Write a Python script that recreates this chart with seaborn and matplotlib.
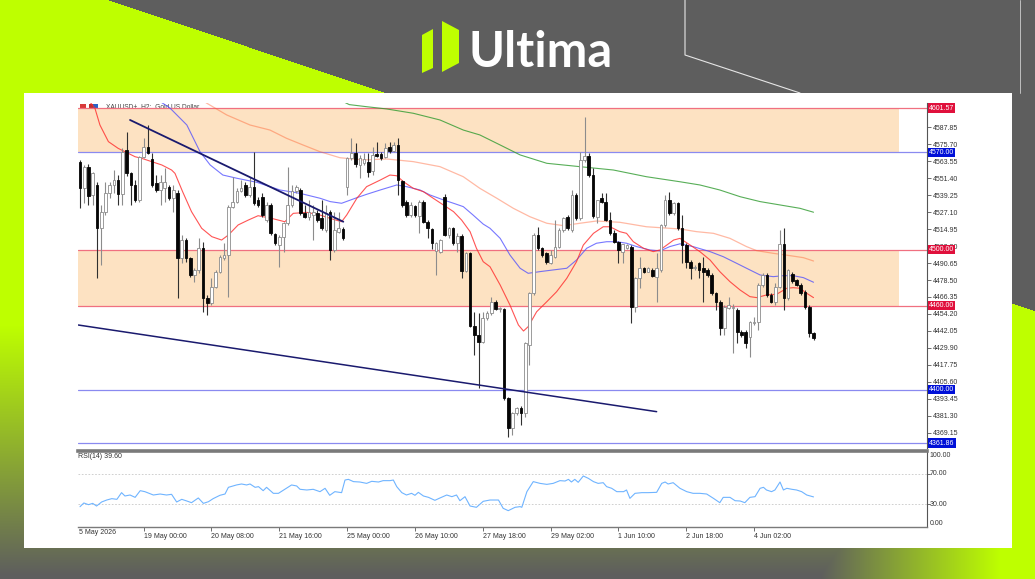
import numpy as np
import pandas as pd
import matplotlib
matplotlib.use("Agg")
import matplotlib.pyplot as plt
import matplotlib.transforms as mtransforms
from matplotlib.patches import Polygon, Rectangle
import seaborn as sns

sns.set_theme(style="white")
plt.rcParams['font.family'] = ['Liberation Sans', 'DejaVu Sans']

# ---------------- data ----------------
OPEN = [4562.7, 4544.1, 4559.6, 4539.3, 4546.5, 4515.5, 4527.4, 4540.5, 4546.5, 4550.1,
        4539.8, 4571.5, 4554.8, 4546.5, 4535.7, 4566.7, 4573.9, 4565.0, 4547.7, 4542.9,
        4544.1, 4545.3, 4536.9, 4540.5, 4494.0, 4507.1, 4494.0, 4482.1, 4485.7, 4501.2,
        4465.4, 4461.8, 4473.7, 4484.5, 4494.0, 4496.4, 4531.0, 4534.5, 4542.2, 4546.5,
        4539.3, 4545.3, 4535.7, 4538.1, 4521.4, 4532.2, 4511.2, 4503.5, 4509.5, 4519.1,
        4532.2, 4542.2, 4542.9, 4526.2, 4523.8, 4525.0, 4526.2, 4522.6, 4514.3, 4527.4,
        4500.0, 4513.1, 4515.0, 4545.3, 4565.6, 4569.6, 4560.8, 4562.0, 4563.2, 4556.5,
        4568.4, 4568.4, 4566.7, 4573.9, 4570.8, 4575.1, 4549.3, 4534.5, 4525.0, 4531.5,
        4524.3, 4534.5, 4520.2, 4515.0, 4499.3, 4498.8, 4538.1, 4510.7, 4515.5, 4504.7,
        4510.0, 4485.2, 4497.6, 4445.8, 4439.2, 4434.4, 4451.1, 4454.7, 4463.0, 4457.7,
        4457.7, 4394.3, 4372.4, 4383.1, 4386.7, 4383.1, 4432.0, 4469.0, 4510.7, 4501.2,
        4497.6, 4490.4, 4495.2, 4502.4, 4514.3, 4523.8, 4514.3, 4539.3, 4522.6, 4564.4,
        4567.4, 4553.6, 4523.8, 4536.9, 4534.5, 4521.4, 4511.9, 4505.9, 4498.8, 4501.6,
        4502.4, 4459.4, 4479.7, 4486.9, 4484.5, 4485.7, 4480.9, 4485.7, 4517.9, 4535.7,
        4526.2, 4533.4, 4515.5, 4503.5, 4491.6, 4486.9, 4490.4, 4486.9, 4485.7, 4482.1,
        4469.0, 4463.0, 4443.9, 4458.7, 4458.2, 4457.0, 4441.5, 4441.5, 4438.0, 4447.5,
        4448.7, 4474.9, 4482.1, 4467.8, 4463.0, 4473.7, 4504.0, 4465.4, 4482.6, 4478.5,
        4474.9, 4470.2, 4459.4, 4440.3]
HIGH = [4564.4, 4561.0, 4561.3, 4556.0, 4548.4, 4532.2, 4548.9, 4548.4, 4557.2, 4553.6,
        4572.7, 4584.6, 4555.5, 4550.1, 4567.4, 4579.9, 4589.4, 4569.1, 4553.6, 4553.6,
        4558.4, 4546.5, 4546.5, 4543.0, 4510.7, 4508.3, 4495.2, 4486.9, 4508.3, 4505.9,
        4467.8, 4479.7, 4485.7, 4496.4, 4504.7, 4532.2, 4552.4, 4544.1, 4550.1, 4548.4,
        4552.4, 4570.3, 4538.1, 4540.5, 4534.5, 4533.4, 4511.9, 4510.7, 4520.2, 4559.6,
        4546.5, 4546.5, 4544.1, 4532.2, 4535.7, 4532.2, 4528.6, 4535.7, 4532.2, 4528.6,
        4527.4, 4527.4, 4516.7, 4566.7, 4579.9, 4576.3, 4568.0, 4569.1, 4569.1, 4573.9,
        4577.0, 4570.3, 4576.3, 4577.5, 4577.5, 4579.9, 4550.1, 4535.7, 4534.5, 4532.2,
        4535.7, 4535.7, 4521.4, 4515.5, 4505.9, 4507.6, 4539.8, 4516.7, 4516.5, 4511.9,
        4511.2, 4498.8, 4498.8, 4455.8, 4454.7, 4455.8, 4456.0, 4466.6, 4464.2, 4459.0,
        4458.5, 4395.0, 4384.0, 4387.5, 4388.0, 4434.4, 4470.2, 4511.9, 4516.7, 4502.4,
        4498.8, 4500.0, 4521.4, 4515.5, 4523.8, 4525.0, 4542.9, 4540.5, 4570.3, 4595.4,
        4569.1, 4558.4, 4535.7, 4540.5, 4541.0, 4527.4, 4514.3, 4506.5, 4504.5, 4504.5,
        4503.5, 4480.5, 4495.2, 4488.0, 4487.5, 4486.9, 4497.6, 4518.5, 4539.3, 4541.2,
        4534.5, 4534.5, 4525.0, 4504.7, 4492.8, 4489.2, 4491.6, 4495.2, 4486.9, 4483.3,
        4470.2, 4464.2, 4460.6, 4466.6, 4461.0, 4458.5, 4442.5, 4442.7, 4449.5, 4452.3,
        4476.0, 4483.3, 4483.3, 4469.0, 4476.1, 4514.3, 4515.5, 4486.5, 4484.0, 4479.5,
        4476.0, 4471.5, 4460.6, 4441.0]
LOW = [4529.8, 4533.4, 4532.2, 4532.2, 4480.2, 4489.2, 4525.0, 4537.0, 4540.5, 4532.2,
       4532.2, 4553.0, 4532.2, 4534.5, 4534.5, 4565.6, 4568.4, 4545.3, 4541.5, 4532.2,
       4534.5, 4535.7, 4527.4, 4465.4, 4490.4, 4491.6, 4480.9, 4477.3, 4483.3, 4455.8,
       4453.5, 4460.6, 4472.5, 4483.3, 4492.8, 4466.6, 4529.8, 4533.4, 4541.2, 4538.1,
       4538.1, 4532.2, 4531.0, 4523.8, 4520.2, 4510.7, 4503.5, 4488.0, 4498.8, 4517.9,
       4531.0, 4540.5, 4525.0, 4522.6, 4521.4, 4507.1, 4520.2, 4514.3, 4513.1, 4492.8,
       4498.8, 4511.9, 4507.1, 4539.3, 4564.4, 4559.6, 4551.2, 4560.8, 4552.4, 4553.6,
       4566.7, 4564.4, 4565.6, 4569.1, 4569.9, 4539.3, 4531.0, 4523.8, 4523.8, 4523.8,
       4511.9, 4519.1, 4508.3, 4500.7, 4482.1, 4497.6, 4510.0, 4508.3, 4503.5, 4498.8,
       4479.7, 4484.5, 4445.0, 4424.8, 4401.0, 4433.2, 4450.0, 4453.5, 4457.0, 4455.5,
       4393.0, 4366.4, 4367.6, 4382.0, 4374.8, 4380.7, 4417.7, 4467.8, 4500.0, 4495.2,
       4489.7, 4489.7, 4494.0, 4501.2, 4513.1, 4514.3, 4513.1, 4521.4, 4521.4, 4563.2,
       4552.4, 4523.0, 4519.1, 4533.4, 4521.0, 4510.7, 4505.0, 4490.4, 4490.4, 4500.5,
       4447.5, 4455.8, 4472.5, 4483.5, 4484.0, 4480.5, 4463.0, 4484.5, 4516.7, 4525.0,
       4525.0, 4514.3, 4490.4, 4486.9, 4479.2, 4485.5, 4479.7, 4463.0, 4481.0, 4467.8,
       4457.0, 4439.2, 4439.2, 4458.0, 4426.0, 4433.2, 4437.5, 4429.6, 4423.6, 4446.5,
       4442.7, 4473.7, 4466.6, 4462.0, 4460.6, 4472.5, 4457.0, 4464.2, 4476.5, 4474.0,
       4468.0, 4458.0, 4438.0, 4435.5]
CLOSE = [4544.6, 4559.6, 4538.9, 4554.8, 4515.5, 4527.4, 4540.5, 4546.5, 4550.1, 4539.8,
         4570.3, 4554.8, 4546.5, 4535.7, 4566.7, 4573.9, 4569.1, 4546.5, 4542.9, 4548.4,
         4548.4, 4536.9, 4542.9, 4494.0, 4507.1, 4494.0, 4482.1, 4485.7, 4501.2, 4465.4,
         4461.8, 4473.7, 4484.5, 4495.2, 4496.4, 4531.0, 4534.5, 4542.2, 4544.1, 4539.3,
         4545.3, 4533.4, 4532.2, 4525.0, 4532.2, 4511.9, 4504.7, 4509.5, 4519.1, 4532.2,
         4542.2, 4545.3, 4526.2, 4523.8, 4527.4, 4527.4, 4521.4, 4515.5, 4526.2, 4500.0,
         4514.3, 4515.5, 4508.3, 4565.6, 4569.6, 4561.3, 4565.6, 4565.1, 4556.0, 4567.9,
         4567.4, 4566.0, 4573.2, 4570.8, 4575.1, 4550.1, 4532.2, 4525.0, 4532.2, 4525.0,
         4534.5, 4520.2, 4515.5, 4504.7, 4504.7, 4507.1, 4510.7, 4515.5, 4504.7, 4510.0,
         4485.2, 4497.6, 4445.8, 4439.2, 4433.9, 4451.1, 4454.7, 4463.0, 4457.7, 4458.2,
         4394.3, 4372.4, 4383.1, 4386.7, 4383.1, 4433.2, 4469.0, 4510.7, 4501.2, 4496.4,
         4491.1, 4496.4, 4502.4, 4514.3, 4522.6, 4515.5, 4539.3, 4522.6, 4564.4, 4567.4,
         4553.6, 4524.0, 4535.7, 4534.5, 4521.4, 4511.9, 4505.9, 4500.0, 4504.0, 4503.5,
         4459.4, 4479.7, 4486.9, 4484.5, 4486.9, 4481.6, 4486.9, 4517.9, 4535.7, 4526.2,
         4533.4, 4515.5, 4503.5, 4491.6, 4486.9, 4488.0, 4485.7, 4484.5, 4482.1, 4469.0,
         4463.0, 4443.9, 4459.4, 4460.6, 4459.4, 4441.5, 4439.2, 4433.2, 4448.7, 4448.7,
         4474.9, 4482.1, 4467.8, 4463.0, 4473.7, 4504.0, 4465.4, 4485.7, 4477.8, 4474.9,
         4469.0, 4459.4, 4440.3, 4436.8]

# moving averages (bar position, price)
MA_RED_X = [1.2, 3.5, 4.7, 6.7, 9, 10.6, 13, 14.5, 16.9, 19.3, 21.6, 22.4, 24.2, 26.3, 28.7,
            31.1, 33.4, 35, 37.3, 39.7, 42, 45.2, 48.3, 50.3, 53.5, 56.6, 59, 61.7, 62.9,
            65.3, 67.6, 70.8, 73.1, 74.7, 76.3, 78.6, 81, 83.3, 85.7, 88.1, 90, 92, 93.5,
            95.1, 96.7, 99.1, 101.4, 103.4, 104.6, 105.7, 107.7, 110.1, 112.4, 114.8, 117.1,
            118.7, 121.1, 123.4, 125, 127.3, 128.9, 130.5, 132.9, 135.2, 136.8, 138.4, 140,
            141.5, 143.9, 146.2, 148.6, 150.9, 153.3, 155.7, 158, 159.6, 161.9, 164.3, 166.7,
            168.2, 169.8, 171.4, 173]
MA_RED_Y = [4610, 4601.6, 4589.4, 4577.5, 4572.7, 4570.3, 4566.7, 4565.6, 4563.2, 4560.8,
            4557.2, 4554.8, 4541.7, 4527.4, 4515.5, 4509.5, 4507.1, 4510.7, 4517.9, 4521.4,
            4524.5, 4522.6, 4520.2, 4526.2, 4526.9, 4525.0, 4522.6, 4520.2, 4525.0, 4537.0,
            4545.3, 4550.0, 4553.6, 4553.1, 4548.8, 4544.1, 4541.7, 4537.0, 4532.2, 4527.4,
            4521.4, 4513.1, 4501.2, 4491.6, 4488.0, 4474.9, 4460.6, 4446.3, 4442.0, 4445.1,
            4455.8, 4463.0, 4470.1, 4479.7, 4491.6, 4503.5, 4511.9, 4516.6, 4516.6, 4513.1,
            4511.9, 4505.9, 4501.2, 4498.8, 4500.0, 4503.5, 4507.1, 4508.3, 4503.5, 4498.8,
            4492.8, 4484.5, 4477.3, 4471.3, 4466.6, 4465.9, 4467.8, 4468.3, 4472.6, 4473.0,
            4472.6, 4469.0, 4465.9]
MA_BLUE_X = [16.5, 21.2, 25.2, 28.3, 30.7, 33.7, 37, 41.7, 47.2, 51.9, 56.6, 59, 61.7, 65.3,
             67.6, 70.8, 74.7, 77, 80.2, 82.5, 85.7, 88.1, 90.4, 92.7, 95.1, 96.7, 99.1, 101.4,
             103.8, 105.7, 108.5, 111.6, 114.8, 117.1, 119.5, 121.8, 124.2, 126.6, 128.9,
             131.3, 134.4, 136.8, 139.1, 141.5, 144.6, 148.6, 151.7, 154.9, 158, 160.4, 163.5,
             165.9, 168.2, 170.6, 173]
MA_BLUE_Y = [4611, 4601.6, 4589.4, 4570.3, 4560.8, 4553.6, 4551.3, 4548.4, 4542.9, 4540.5,
             4537.0, 4534.6, 4533.4, 4537.4, 4539.8, 4542.9, 4546.5, 4545.3, 4542.9, 4539.4,
             4535.8, 4533.4, 4531.0, 4525.0, 4518.5, 4515.5, 4508.3, 4496.4, 4486.9, 4483.3,
             4484.5, 4485.7, 4486.9, 4492.8, 4501.2, 4504.8, 4505.9, 4505.9, 4504.8, 4502.4,
             4500.0, 4499.3, 4502.4, 4504.4, 4502.4, 4498.8, 4495.2, 4490.4, 4485.7, 4482.1,
             4480.9, 4481.6, 4481.6, 4480.2, 4476.9]
MA_SALMON_X = [27.5, 29.9, 34.6, 40.1, 44.8, 48.7, 52.6, 56.6, 61.3, 66.8, 72.3, 78.6, 84.9,
               90.4, 94.3, 98.3, 102.2, 106.1, 110.1, 114, 117.9, 121.8, 127.3, 133.6, 141.5,
               145.4, 149.4, 153.3, 157.2, 159.6, 163.5, 167.5, 170.6, 173]
MA_SALMON_Y = [4610, 4605, 4596.6, 4589.4, 4585.8, 4579.9, 4575.1, 4570.3, 4566.0, 4564.4,
               4565.1, 4563.2, 4559.6, 4552.4, 4544.1, 4537.0, 4529.8, 4523.8, 4519.1, 4517.4,
               4519.1, 4520.7, 4519.8, 4516.6, 4515.0, 4513.1, 4511.9, 4508.3, 4502.4, 4499.5,
               4497.6, 4495.9, 4494.5, 4492.1]
MA_GREEN_X = [61.5, 63.5, 67.6, 72.3, 78.6, 84.9, 90.4, 94.3, 99.1, 103.8, 110.1, 117.9, 125.8,
              133.6, 141.5, 146.2, 150.9, 155.7, 160.4, 165.1, 169.8, 173]
MA_GREEN_Y = [4607, 4604, 4602.5, 4600.9, 4597.8, 4593.0, 4585.8, 4582.3, 4575.1, 4568.0,
              4562.0, 4559.6, 4557.2, 4552.4, 4548.8, 4546.5, 4542.9, 4538.1, 4534.6, 4532.2,
              4529.8, 4527.0]

RSI_X = [0, 0.9, 2.0, 3.0, 3.9, 5.1, 6.3, 7.5, 8.7, 9.8, 10.6, 11.8, 13.0, 14.2, 15.3, 17.3,
         18.9, 20.4, 21.6, 22.8, 24.0, 25.2, 26.3, 27.9, 29.1, 30.3, 31.4, 33.0, 34.2, 35.0,
         36.9, 38.1, 39.3, 40.1, 41.3, 42.1, 43.2, 44.0, 45.6, 46.8, 48.3, 49.9, 51.1, 51.9,
         53.5, 55.0, 56.6, 57.8, 58.9, 60.1, 61.7, 62.5, 63.3, 64.5, 66.0, 67.6, 68.8, 70.4,
         71.5, 73.1, 73.9, 74.7, 75.9, 77.0, 78.2, 79.0, 79.8, 81.0, 82.2, 83.7, 84.9, 86.5,
         87.7, 88.8, 89.6, 90.8, 92.0, 93.5, 95.1, 96.7, 98.7, 99.8, 101.0, 102.6, 103.8,
         104.2, 105.4, 106.9, 108.5, 110.1, 111.6, 113.2, 114.4, 115.2, 115.9, 116.7, 117.5,
         118.7, 119.9, 121.1, 122.2, 123.4, 124.2, 125.4, 126.6, 128.2, 128.9, 129.7, 130.9,
         132.5, 134.0, 136.0, 137.2, 138.0, 138.7, 139.9, 141.5, 143.1, 144.6, 146.2, 147.8,
         149.4, 150.9, 151.7, 153.3, 154.5, 155.7, 156.8, 158.0, 159.2, 160.4, 161.2, 161.9,
         163.1, 163.9, 165.1, 165.9, 166.7, 167.9, 169.0, 170.2, 171.4, 173.0]
RSI_V = [26.7, 31.6, 29.4, 31.1, 27.6, 32.9, 35.5, 37.3, 36.4, 45.2, 40.8, 42.1, 39.0, 47.8,
         46.5, 42.1, 43.4, 42.1, 43.0, 32.9, 36.4, 34.2, 32.0, 38.2, 31.1, 33.3, 37.3, 41.7,
         43.4, 52.2, 55.3, 56.6, 55.3, 56.6, 52.2, 53.1, 47.8, 52.2, 44.3, 44.3, 49.6, 55.3,
         54.0, 49.6, 48.7, 49.6, 46.5, 50.9, 41.7, 46.5, 45.2, 61.8, 62.7, 59.7, 59.2, 57.4,
         60.1, 59.2, 61.0, 61.0, 61.8, 53.1, 45.2, 42.1, 44.3, 41.7, 45.6, 40.8, 39.0, 35.1,
         38.2, 42.1, 39.9, 42.1, 34.6, 39.9, 27.6, 25.9, 33.8, 35.5, 35.5, 24.6, 21.5, 25.9,
         26.8, 25.9, 46.5, 59.7, 57.4, 56.1, 57.4, 61.0, 60.5, 62.7, 59.2, 62.7, 58.8, 67.1,
         64.0, 59.7, 57.4, 58.3, 53.1, 50.9, 46.5, 46.5, 48.7, 37.7, 44.3, 45.2, 45.2, 45.6,
         57.4, 59.2, 56.6, 58.3, 50.9, 46.5, 44.3, 44.3, 43.4, 37.7, 32.0, 39.0, 39.0, 34.6,
         34.2, 32.0, 39.0, 39.9, 50.9, 52.2, 48.7, 46.5, 48.7, 59.2, 48.7, 50.9, 49.6, 48.7,
         46.5, 42.1, 39.6]

LEVELS_RED = [4601.57, 4500.00, 4460.00]
LEVELS_BLUE = [4570.00, 4400.00, 4361.86]
BANDS = [(4570.00, 4601.57), (4460.00, 4500.00)]
TREND_UP_X, TREND_UP_Y = [11.8, 62.1], [4593.0, 4520.2]
TREND_LOW_X, TREND_LOW_Y = [-0.4, 136.0], [4446.3, 4384.3]
PRICE_TICKS = [4369.15, 4381.30, 4393.45, 4405.60, 4417.75, 4429.90, 4442.05, 4454.20,
               4466.35, 4478.50, 4490.65, 4502.80, 4514.95, 4527.10, 4539.25, 4551.40,
               4563.55, 4575.70, 4587.85]
TIME_TICKS = [15, 31, 47, 63, 79, 95, 111, 127, 143, 159]
TIME_LABELS = ["19 May 00:00", "20 May 08:00", "21 May 16:00", "25 May 00:00", "26 May 10:00",
               "27 May 18:00", "29 May 02:00", "1 Jun 10:00", "2 Jun 18:00", "4 Jun 02:00"]
FIRST_DATE = "5 May 2026"
TITLE = "XAUUSD+, H2:  Gold US Dollar"
RSI_TITLE = "RSI(14) 39.60"

# ---------------- figure ----------------
W, H = 1035, 579
fig = plt.figure(figsize=(W / 100, H / 100), dpi=100)

bg = fig.add_axes([0, 0, 1, 1])
bg.set_xlim(0, W)
bg.set_ylim(H, 0)
bg.axis('off')

yy, xx = np.mgrid[0:H, 0:W].astype(float)
gray = np.array([94, 94, 94]) / 255.0
lime = np.array([190, 255, 0]) / 255.0
inside = xx < 109 + yy * (277.0 / 93.0)
f_left = np.clip((575 - yy) / 250.0, 0, 1)
f_right = np.clip((xx - 820) / 180.0, 0, 1)
frac = (inside * np.maximum(f_left, f_right))[..., None]
img = gray * (1 - frac) + lime * frac
bg.imshow(img, extent=[0, W, H, 0], aspect='auto', zorder=0, interpolation='bilinear')

# thin white decorative lines
bg.plot([685, 685, 800], [0, 55, 93], color='#e6e6e6', lw=0.8, zorder=1)
bg.plot([1020, 1020], [0, 93], color='#cfcfcf', lw=0.6, zorder=1)

# logo
bg.add_patch(Polygon([(422, 35), (433, 29), (433, 68), (422, 73)], closed=True,
                     facecolor='#bfff00', edgecolor='none', zorder=2))
bg.add_patch(Polygon([(442, 21), (459, 30), (459, 63), (442, 72)], closed=True,
                     facecolor='#bfff00', edgecolor='none', zorder=2))
bg.text(468, 67, "Ultima", color='white', fontsize=35, fontweight='bold',
        family=['Lato', 'DejaVu Sans'], ha='left', va='baseline', zorder=2)

# white panel
bg.add_patch(Rectangle((24, 93), 988, 455, facecolor='white', edgecolor='none', zorder=3))

# ---------------- price axes ----------------
X0 = 80.0
DX = 4.24
xl = ((78 - X0) / DX, (927 - X0) / DX)
PY0, PPX = 4601.57, 0.7155
def price_at(y):
    return PY0 - (y - 108) * PPX

ax = fig.add_axes([78 / W, (H - 448) / H, (927 - 78) / W, (448 - 103) / H])
ax.set_facecolor('none')
ax.set_xlim(*xl)
ax.set_ylim(price_at(448), price_at(103))

for lo, hi in BANDS:
    ax.add_patch(Rectangle((xl[0], lo), (899 - 78) / DX, hi - lo, facecolor='#fde2c2',
                           edgecolor='none', zorder=1))
for lv in LEVELS_RED:
    ax.axhline(lv, color='#f07080', lw=0.9, zorder=2)
for lv in LEVELS_BLUE:
    ax.axhline(lv, color='#8a8af0', lw=0.9, zorder=2)

df = pd.DataFrame({'bar': np.arange(len(CLOSE)), 'open': OPEN, 'high': HIGH,
                   'low': LOW, 'close': CLOSE})
up = df['close'] >= df['open']
ax.vlines(df.loc[up, 'bar'], df.loc[up, 'low'], df.loc[up, 'high'], color='#8c8c8c', lw=0.8, zorder=4)
ax.vlines(df.loc[~up, 'bar'], df.loc[~up, 'low'], df.loc[~up, 'high'], color='#303030', lw=0.8, zorder=4)
bot = np.minimum(df['open'], df['close'])
hgt = np.maximum((df['close'] - df['open']).abs(), 0.6)
ax.bar(df.loc[up, 'bar'], hgt[up], bottom=bot[up], width=0.62, color='white',
       edgecolor='#8c8c8c', linewidth=0.6, zorder=5)
ax.bar(df.loc[~up, 'bar'], hgt[~up], bottom=bot[~up], width=0.62, color='#050505',
       edgecolor='#050505', linewidth=0.6, zorder=5)

sns.lineplot(x=MA_SALMON_X, y=MA_SALMON_Y, ax=ax, color='#ff5a28', alpha=0.42, lw=0.9,
             estimator=None, sort=False, zorder=3)
sns.lineplot(x=MA_GREEN_X, y=MA_GREEN_Y, ax=ax, color='#2e9a2e', alpha=0.8, lw=0.8,
             estimator=None, sort=False, zorder=3)
sns.lineplot(x=MA_BLUE_X, y=MA_BLUE_Y, ax=ax, color='#4a4aff', alpha=0.75, lw=0.8,
             estimator=None, sort=False, zorder=3)
sns.lineplot(x=MA_RED_X, y=MA_RED_Y, ax=ax, color='#ff2a2a', alpha=0.8, lw=0.8,
             estimator=None, sort=False, zorder=3)
sns.lineplot(x=TREND_UP_X, y=TREND_UP_Y, ax=ax, color='#1a1a6e', lw=1.3,
             estimator=None, sort=False, zorder=6)
sns.lineplot(x=TREND_LOW_X, y=TREND_LOW_Y, ax=ax, color='#1a1a6e', lw=1.1,
             estimator=None, sort=False, zorder=6)

for s in ['top', 'left', 'bottom']:
    ax.spines[s].set_visible(False)
ax.spines['right'].set_color('#555555')
ax.spines['right'].set_linewidth(0.8)
ax.yaxis.tick_right()
ax.set_yticks(PRICE_TICKS)
ax.set_yticklabels([f"{t:.2f}" for t in PRICE_TICKS])
ax.tick_params(axis='y', which='both', right=True, length=3, width=0.6, color='#555555',
               pad=1, labelsize=5, labelcolor='#333333')
ax.set_xticks([])
ax.grid(False)
ax.set_xlabel('')
ax.set_ylabel('')

trans = mtransforms.blended_transform_factory(ax.transAxes, ax.transData)
for lv in LEVELS_RED:
    ax.text(1.0025, lv, f"{lv:.2f}", transform=trans, fontsize=5, color='white',
            ha='left', va='center', clip_on=False, zorder=10,
            bbox=dict(boxstyle='square,pad=0.15', facecolor='#e0103c', edgecolor='none'))
for lv in LEVELS_BLUE:
    ax.text(1.0025, lv, f"{lv:.2f}", transform=trans, fontsize=5, color='white',
            ha='left', va='center', clip_on=False, zorder=10,
            bbox=dict(boxstyle='square,pad=0.15', facecolor='#0010d8', edgecolor='none'))

# title + icons
bg.add_patch(Rectangle((80, 104), 6, 5, facecolor='#d83a3a', edgecolor='none', zorder=6))
bg.add_patch(Rectangle((89, 104), 4, 5, facecolor='#c03030', edgecolor='none', zorder=6))
bg.add_patch(Rectangle((93, 104), 5, 5, facecolor='#2a62c8', edgecolor='none', zorder=6))
bg.text(106, 107, TITLE, fontsize=4.8, color='#444444', ha='left', va='center', zorder=6)

# ---------------- RSI axes ----------------
rx = fig.add_axes([78 / W, (H - 527) / H, (927 - 78) / W, (527 - 451) / H])
rx.set_facecolor('none')
rx.set_xlim(*xl)
rx.set_ylim(0, 100)
for lv in (70, 30):
    rx.axhline(lv, color='#c8c8c8', lw=0.6, ls=(0, (2, 2)), zorder=1)
sns.lineplot(x=RSI_X, y=RSI_V, ax=rx, color='#6fb4ff', lw=0.8, estimator=None,
             sort=False, zorder=3)
rx.spines['left'].set_visible(False)
rx.spines['top'].set_color('#7a7a7a')
rx.spines['top'].set_linewidth(2.6)
rx.spines['bottom'].set_color('#7a7a7a')
rx.spines['bottom'].set_linewidth(1.0)
rx.spines['right'].set_color('#555555')
rx.spines['right'].set_linewidth(0.8)
rx.yaxis.tick_right()
rx.set_yticks([])
rx.set_xticks(TIME_TICKS)
rx.set_xticklabels(TIME_LABELS)
for lab in rx.get_xticklabels():
    lab.set_horizontalalignment('left')
rx.tick_params(axis='x', bottom=True, length=3, width=0.6, color='#555555', pad=1,
               labelsize=5, labelcolor='#333333')
rx.set_xlabel('')
rx.set_ylabel('')
rx.grid(False)
rtrans = mtransforms.blended_transform_factory(rx.transAxes, rx.transData)
for val, lab in [(94, "100.00"), (70, "70.00"), (30, "30.00"), (5, "0.00")]:
    rx.text(1.003, val, lab, transform=rtrans, fontsize=5, color='#333333', ha='left',
            va='center', clip_on=False)
for val in (70, 30):
    rx.plot([1.0, 1.004], [val, val], transform=rtrans, color='#555555', lw=0.6, clip_on=False)
rx.text(0.0, 0.97, RSI_TITLE, transform=rx.transAxes, fontsize=5, color='#333333',
        ha='left', va='top')
bg.text(79, 533, FIRST_DATE, fontsize=5, color='#333333', ha='left', va='center', zorder=6)

fig.savefig("out.png", dpi=100)
